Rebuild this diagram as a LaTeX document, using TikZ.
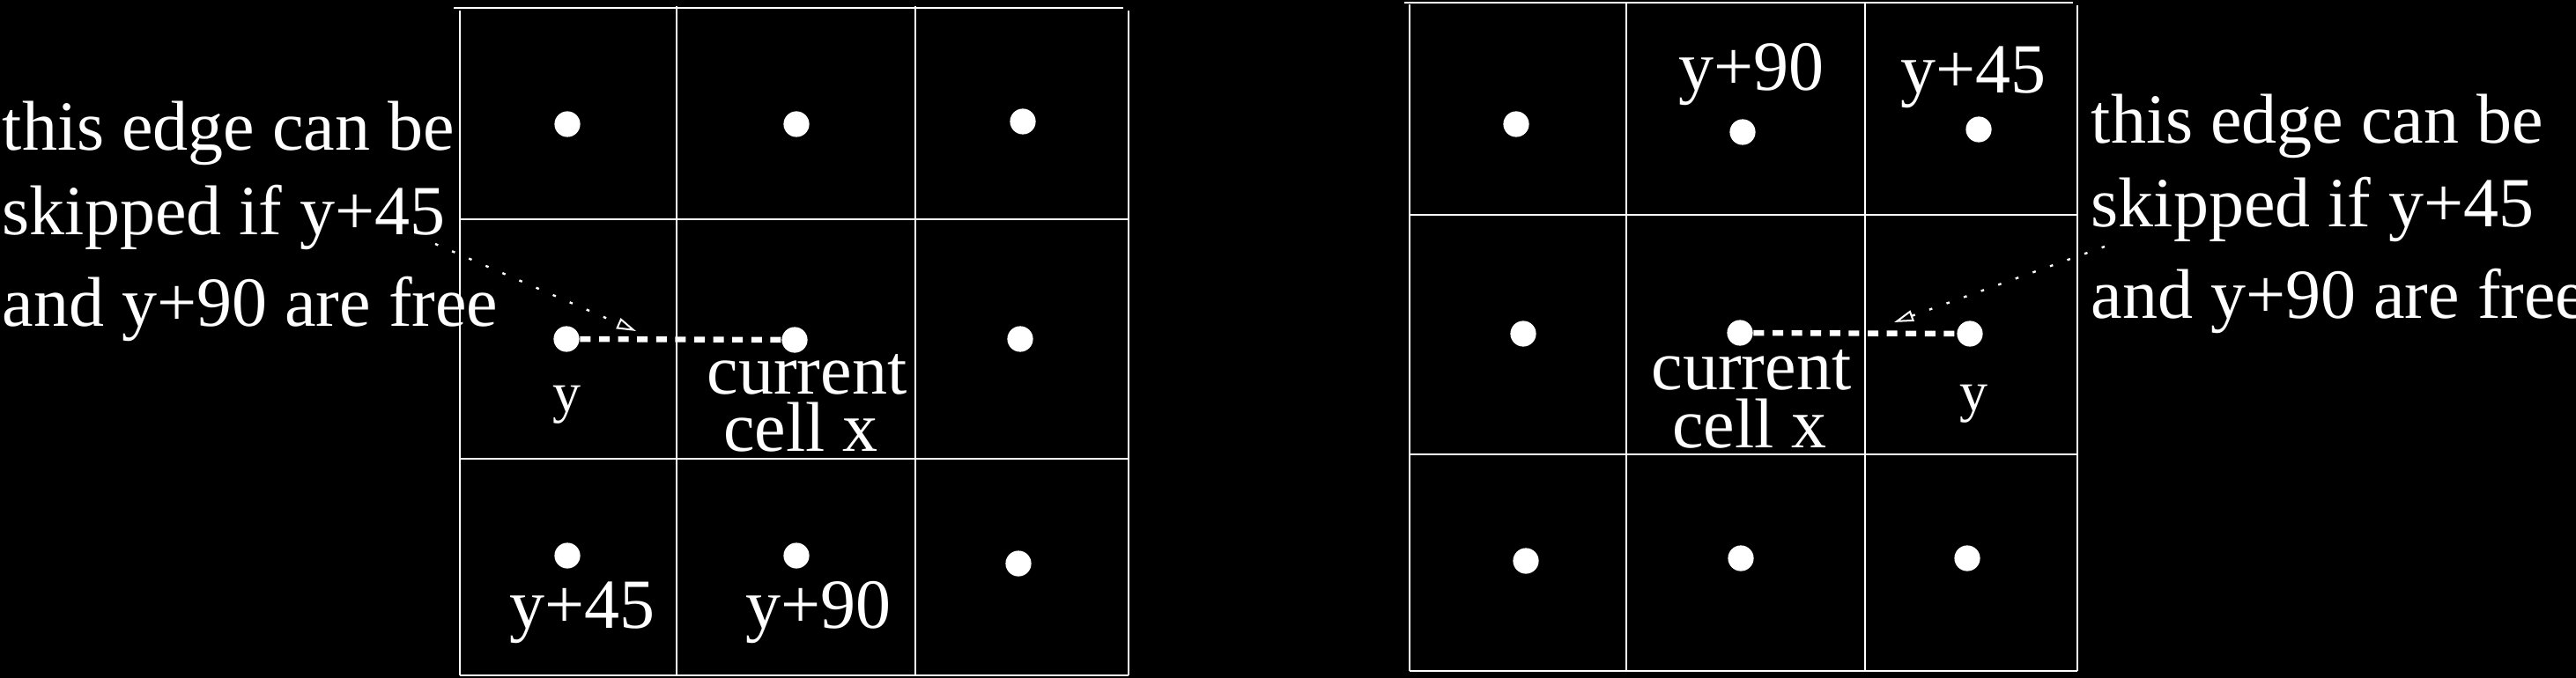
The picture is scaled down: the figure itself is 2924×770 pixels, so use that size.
\documentclass[tikz,border=0pt]{standalone}
\usepackage{fontspec}
\setmainfont{Liberation Serif}
\usetikzlibrary{arrows.meta}
\begin{document}
\begin{tikzpicture}[x=0.25pt,y=-0.25pt,
  thickline/.style={draw=white,line width=0.5pt},
  thinline/.style={draw=white,line width=0.3pt},
  dot/.style={circle,fill=white,inner sep=0pt,minimum size=7.3pt},
  lbl/.style={text=white,inner sep=0pt,anchor=base,font=\fontsize{20pt}{25pt}\selectfont},
  smalllbl/.style={lbl,font=\fontsize{16pt}{20pt}\selectfont},
  note/.style={lbl,anchor=base west},
  edgeline/.style={draw=white,line width=1.6pt,dash pattern=on 3pt off 2.4pt},
  hint/.style={draw=white,line width=0.6pt,dash pattern=on 0.9pt off 4.3pt,
    -{Triangle[open,length=5.5pt,width=3.2pt,line width=0.5pt]}},
]
\fill[black] (0,0) rectangle (2924,770);
\useasboundingbox (0,0) rectangle (2924,770);

% ---------- left grid ----------
\draw[thickline] (515,9) -- (1275,9);
\draw[thickline] (522,12) -- (522,767);
\draw[thickline] (1281,12) -- (1281,767);
\draw[thinline] (768,7) -- (768,767);
\draw[thinline] (1039,7) -- (1039,767);
\draw[thickline] (522,249) -- (1281,249);
\draw[thickline] (522,521) -- (1281,521);
\draw[thickline] (522,767) -- (1281,767);

% left dots
\node[dot] (l11) at (644,141) {};
\node[dot] (l12) at (904,141) {};
\node[dot] (l13) at (1161,138) {};
\node[dot] (ly)  at (643,385) {};
\node[dot] (lx)  at (902,386) {};
\node[dot] (l23) at (1158,385) {};
\node[dot] (l31) at (644,631) {};
\node[dot] (l32) at (904,631) {};
\node[dot] (l33) at (1156,640) {};

\draw[edgeline] (ly) -- (lx);

% left labels
\node[smalllbl] (lylab) at (643,468) {y};
\node[lbl] (lcur) at (916,447) {current};
\node[lbl] (lcell) at (909,513) {cell x};
\node[lbl] (l45) at (661,713) {y+45};
\node[lbl] (l90) at (929,713) {y+90};

% left note
\node[note] (ln1) at (2,171) {this edge can be};
\node[note] (ln2) at (2,267) {skipped if y+45};
\node[note] (ln3) at (2,370) {and y+90 are free};
\coordinate (lhs) at (494,277);
\coordinate (lht) at (722,376);
\draw[hint] (lhs) -- (lht);

% ---------- right grid ----------
\draw[thickline] (1594,3) -- (2353,3);
\draw[thickline] (1600,5) -- (1600,762);
\draw[thickline] (2358,6) -- (2358,762);
\draw[thinline] (1846,3) -- (1846,762);
\draw[thinline] (2117,3) -- (2117,762);
\draw[thickline] (1600,244) -- (2358,244);
\draw[thickline] (1600,516) -- (2358,516);
\draw[thickline] (1600,762) -- (2358,762);

% right dots
\node[dot] (r11) at (1721,141) {};
\node[dot] (r12) at (1978,150) {};
\node[dot] (r13) at (2246,147) {};
\node[dot] (r21) at (1729,379) {};
\node[dot] (rx)  at (1975,378) {};
\node[dot] (ry)  at (2236,379) {};
\node[dot] (r31) at (1732,637) {};
\node[dot] (r32) at (1976,634) {};
\node[dot] (r33) at (2233,634) {};

\draw[edgeline] (rx) -- (ry);

% right labels
\node[lbl] (r90) at (1988,103) {y+90};
\node[lbl] (r45) at (2240,106) {y+45};
\node[lbl] (rcur) at (1988,442) {current};
\node[lbl] (rcell) at (1986,508) {cell x};
\node[smalllbl] (rylab) at (2240,466) {y};

% right note
\node[note] (rn1) at (2373,163) {this edge can be};
\node[note] (rn2) at (2373,258) {skipped if y+45};
\node[note] (rn3) at (2373,362) {and y+90 are free};
\coordinate (rhs) at (2389,280);
\coordinate (rht) at (2150,366);
\draw[hint] (rhs) -- (rht);
\end{tikzpicture}
\end{document}
